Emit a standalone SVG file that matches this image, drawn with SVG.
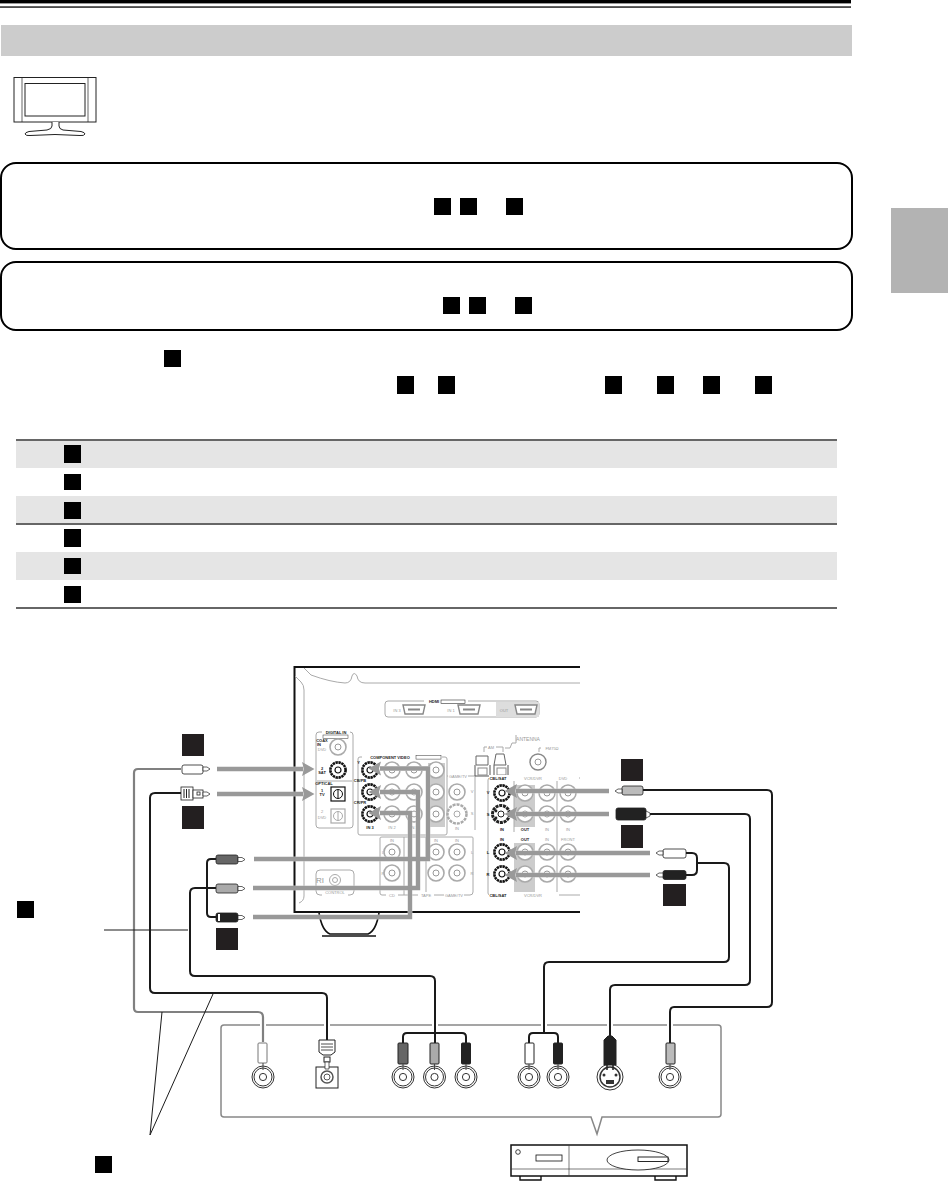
<svg xmlns="http://www.w3.org/2000/svg" xmlns:xlink="http://www.w3.org/1999/xlink" width="948" height="1181" viewBox="0 0 948 1181">
<style>
text{font-family:"Liberation Sans",Arial,sans-serif;text-anchor:middle}
.s{font-size:4px;font-weight:bold;fill:#222}
.g{font-size:4px;fill:#999}
.sq{fill:#000}.dq{fill:#231f20}
.rule{fill:none;stroke:#666;stroke-width:2}
.shade{fill:#e5e5e5}
.rbox{fill:none;stroke:#000;stroke-width:2}
.thin{fill:none;stroke:#1a1a1a;stroke-width:1}
.pg{fill:none;stroke:#aaa;stroke-width:1}
.hi{fill:none;stroke:#fff;stroke-width:6}
.arr{fill:none;stroke:#999;stroke-width:4.4;marker-end:url(#head)}
.halo{fill:none;stroke:#fff;stroke-width:4.5}
.cb{fill:none;stroke:#1a1a1a;stroke-width:2}
.cg{fill:none;stroke:#808080;stroke-width:2.2}
.p{stroke:#222;stroke-width:.8}
.tip{fill:#fff;stroke:#222;stroke-width:.7}
</style>
<defs>
<marker id="head" markerUnits="userSpaceOnUse" markerWidth="13" markerHeight="15" refX="1" refY="7.5" orient="auto" viewBox="0 0 13 15"><path d="M0 .5L12.5 7.5L0 14.5L2 7.5Z" fill="#999"/></marker>
<g id="jb"><circle r="7.6" fill="#fff" stroke="#111" stroke-width="2.6" stroke-dasharray="2.4 .6"/><circle r="3" fill="#fff" stroke="#111" stroke-width="1.200"/></g>
<g id="jg"><circle r="8" fill="#fff" stroke="#aaa" stroke-width="1.6"/><circle r="3" fill="none" stroke="#999" stroke-width="1"/></g>
<g id="jc"><circle r="11" fill="#fff" stroke="#333" stroke-width="1"/><circle r="9" fill="none" stroke="#333" stroke-width="1"/><circle r="3.6" fill="none" stroke="#333" stroke-width="1"/></g>
<g id="hd"><path d="M-11 -4.5H11L9 4.5H-9Z" fill="#fff" stroke="#888" stroke-width="1.4"/><rect x="-6" y="-1" width="12" height="2" fill="#888"/></g>
<g id="tr"><path class="tip" d="M0 -2H4L7 0L4 2H0Z"/></g>
<g id="tl"><path class="tip" d="M0 -2H-4L-7 0L-4 2H0Z"/></g>
<path id="a1" d="M217 769H303"/>
<path id="a2" d="M217 794H303"/>
<path id="a3" d="M254 859H428V768.5H380"/>
<path id="a4" d="M253 888H418V792H380"/>
<path id="a5" d="M253 917H410V813H380"/>
<path id="a6" d="M609 791H516"/>
<path id="a7" d="M609 814H516"/>
<path id="a8" d="M650 853H516"/>
<path id="a9" d="M650 875H516"/>
<path id="c1" d="M181 769H138Q134 769 134 773V1008Q134 1012 138 1012H258Q263 1012 263 1017V1042"/>
<path id="c2" d="M181 793H155Q150 793 150 798V988Q150 993 155 993H322Q327 993 327 998V1040"/>
<path id="c3" d="M216 888H195Q190 888 190 893V971Q190 976 195 976H430Q435 976 435 981V1043"/>
<path id="c4" d="M643 790H767Q772 790 772 795V1002Q772 1007 767 1007H674Q670 1007 670 1012V1043"/>
<path id="c5" d="M650 814H745Q750 814 750 819V980Q750 985 745 985H615Q610 985 610 990V1036"/>
<path id="c6" d="M697 863H724Q729 863 729 868V957Q729 962 724 962H549Q544 962 544 967V1033"/>
</defs>
<g id="page-header">
<rect x="0" y="0" width="851" height="3.4" fill="#000"/>
<rect x="0" y="6.4" width="851" height="1.3" fill="#000"/>
<rect x="1" y="25" width="851" height="31" fill="#ccc"/>
<rect x="891" y="208" width="57" height="85" fill="#b3b3b3"/>
</g>
<g id="tv-icon" fill="#fff" stroke="#222" stroke-width="1">
<rect x="14" y="77.5" width="82" height="44.5"/>
<path d="M22 77.5V122M88 77.5V122" stroke-width=".7"/>
<rect x="25" y="83.5" width="60" height="32.5"/>
<path d="M52 122V126Q52 129 47 130L29 131.5Q25 132.5 25 134Q26 136 30 135.5L55 134.5L80 135.5Q84 136 85 134Q85 132.5 81 131.5L63 130Q59 129 59 126V122"/>
</g>
<g id="note-box-1"><rect class="rbox" x="1" y="163" width="851" height="86" rx="15"/>
<rect class="sq" x="434" y="198" width="17" height="17"/><rect class="sq" x="460" y="198" width="17" height="17"/><rect class="sq" x="506" y="198" width="17" height="17"/></g>
<g id="note-box-2"><rect class="rbox" x="1" y="262" width="851" height="68" rx="15"/>
<rect class="sq" x="443" y="297" width="17" height="17"/><rect class="sq" x="469" y="297" width="17" height="17"/><rect class="sq" x="515" y="297" width="17" height="17"/></g>
<g id="intro-markers">
<rect class="sq" x="164" y="350" width="17" height="17"/>
<rect class="sq" x="397" y="376" width="17" height="18"/><rect class="sq" x="438" y="376" width="17" height="18"/>
<rect class="sq" x="605" y="376" width="17" height="18"/><rect class="sq" x="657" y="376" width="17" height="18"/>
<rect class="sq" x="703" y="376" width="17" height="18"/><rect class="sq" x="755" y="376" width="17" height="18"/>
</g>
<g id="table">
<rect class="shade" x="16" y="441" width="821" height="27"/>
<rect class="shade" x="16" y="496" width="821" height="27"/>
<rect class="shade" x="16" y="552" width="821" height="28"/>
<path class="rule" d="M16 440H837M16 524H837M16 608H837"/>
<rect class="sq" x="64" y="445" width="17" height="18"/>
<rect class="sq" x="64" y="474" width="17" height="16"/>
<rect class="sq" x="64" y="502" width="17" height="17"/>
<rect class="sq" x="64" y="529" width="17" height="18"/>
<rect class="sq" x="64" y="558" width="17" height="16"/>
<rect class="sq" x="64" y="586" width="17" height="17"/>
</g>
<g id="av-receiver-panel">
<path d="M580 667H294.5V912H580" fill="none" stroke="#111" stroke-width="2"/>
<path d="M319 913C321 925 325 932 330 934H368C373 932 377 925 379 913" fill="#fff" stroke="#111" stroke-width="1.6"/>
<path d="M322 936H376" stroke="#111" stroke-width="1.5"/>
<path class="pg" d="M304 668L311 675Q330 682 345 683Q351 683 352 676Q354 671 357 676Q358 683 365 683H580"/>
<path class="pg" d="M295 676L301 682Q304 685 304 690V896Q304 901 299 903"/>
<g id="hdmi-group">
<rect class="pg" x="385" y="701" width="154" height="16" rx="3"/>
<rect x="496" y="702" width="43" height="15" fill="#ddd"/>
<rect x="424" y="699" width="44" height="5" fill="#fff"/>
<text class="s" x="434" y="703">HDMI</text><rect x="441" y="700" width="24" height="3.6" fill="#fff" stroke="#333" stroke-width=".6"/>
<text class="g" x="397" y="712">IN 3</text><text class="g" x="451" y="712">IN 1</text><text class="g" x="504" y="712">OUT</text>
<use href="#hd" xlink:href="#hd" x="414" y="709.5"/><use href="#hd" xlink:href="#hd" x="469" y="709.5"/><use href="#hd" xlink:href="#hd" x="526" y="709.5"/>
</g>
<g id="digital-in">
<rect class="pg" x="316" y="732" width="37" height="96" rx="3"/>
<rect x="322" y="730" width="28" height="9" fill="#fff"/>
<text class="s" x="336" y="734">DIGITAL IN</text><rect x="323" y="735" width="25" height="3.5" fill="#fff" stroke="#333" stroke-width=".5"/>
<text class="s" x="322" y="742">COAX</text><text class="s" x="319" y="746">IN</text><text class="g" x="322" y="751">DVD</text>
<text class="s" x="322" y="770">2</text><text class="s" x="322" y="774">SAT</text>
<path class="pg" d="M317 781H352"/><text class="s" x="324" y="785">OPTICAL</text>
<text class="s" x="322" y="792">1</text><text class="s" x="322" y="796">TV</text>
<text class="g" x="322" y="813">2</text><text class="g" x="322" y="819">DVD</text>
<use href="#jg" xlink:href="#jg" x="338" y="747"/><use href="#jb" xlink:href="#jb" x="338" y="770"/>
<rect x="331" y="787" width="14" height="14" fill="#fff" stroke="#111" stroke-width="1.2"/><circle cx="338" cy="794" r="4.5" fill="none" stroke="#111"/><path d="M338 789.5V798.5" stroke="#111"/>
<rect x="331" y="809" width="14" height="14" fill="#fff" stroke="#aaa" stroke-width="1.2"/><circle cx="338" cy="816" r="4.5" fill="none" stroke="#aaa"/><path d="M338 811.5V820.5" stroke="#aaa"/>
</g>
<g id="component-video">
<rect x="428" y="763" width="17" height="64" fill="#ccc"/>
<path class="pg" d="M360 757Q358 757 358 759V833Q358 835 360 835H445Q447 835 447 833V759Q447 757 445 757Z"/>
<rect x="362" y="754" width="80" height="6" fill="#fff"/>
<text class="s" x="390" y="759">COMPONENT VIDEO</text><rect x="416" y="755.5" width="25" height="3.6" fill="#fff" stroke="#333" stroke-width=".5"/>
<text class="s" x="358.5" y="764">Y</text><text class="s" x="360" y="782">CB/PB</text><text class="s" x="360" y="804">CR/PR</text>
<text class="s" x="370" y="829">IN 3</text><text class="g" x="392" y="829">IN 2</text><text class="g" x="414" y="829">IN 1</text>
<use href="#jg" xlink:href="#jg" x="392" y="770"/><use href="#jg" xlink:href="#jg" x="414" y="770"/><use href="#jg" xlink:href="#jg" x="436" y="770"/>
<use href="#jg" xlink:href="#jg" x="392" y="792"/><use href="#jg" xlink:href="#jg" x="414" y="792"/><use href="#jg" xlink:href="#jg" x="436" y="792"/>
<use href="#jg" xlink:href="#jg" x="392" y="814"/><use href="#jg" xlink:href="#jg" x="414" y="814"/><use href="#jg" xlink:href="#jg" x="436" y="814"/>
<use href="#jb" xlink:href="#jb" x="370" y="770"/><use href="#jb" xlink:href="#jb" x="370" y="792"/><use href="#jb" xlink:href="#jb" x="370" y="814"/>
</g>
<g id="game-tv-video">
<path class="pg" d="M447 776H475V830"/>
<rect x="448" y="773" width="20" height="6" fill="#fff"/>
<text class="g" x="458" y="778">GAME/TV</text><text class="g" x="472" y="793">V</text><text class="g" x="472" y="815">S</text><text class="g" x="457" y="830">IN</text>
<use href="#jg" xlink:href="#jg" x="457" y="792"/><circle cx="457" cy="814" r="9.5" fill="#fff" stroke="#aaa" stroke-width="2.5" stroke-dasharray="3 1"/><circle cx="457" cy="814" r="3" fill="#fff" stroke="#aaa"/>
</g>
<g id="audio-in">
<path class="pg" d="M380 893V838Q380 837 382 837H472Q473 837 473 838V892Q473 895 470 895H382Q380 895 380 893ZM404 837V895M426 837V895"/>
<rect x="386" y="838" width="12" height="6" fill="#fff"/>
<text class="g" x="392" y="842">IN</text><text class="g" x="436" y="842">IN</text><text class="g" x="457" y="842">IN</text>
<text class="g" x="383" y="854">L</text><text class="g" x="383" y="875">R</text><text class="g" x="472" y="854">L</text><text class="g" x="472" y="875">R</text>
<rect x="386" y="892" width="12" height="6" fill="#fff"/><rect x="418" y="892" width="16" height="6" fill="#fff"/><rect x="444" y="892" width="20" height="6" fill="#fff"/>
<text class="g" x="392" y="897">CD</text><text class="g" x="426" y="897">TAPE</text><text class="g" x="454" y="897">GAME/TV</text>
<use href="#jg" xlink:href="#jg" x="392" y="852"/><use href="#jg" xlink:href="#jg" x="392" y="873"/><use href="#jg" xlink:href="#jg" x="436" y="852"/><use href="#jg" xlink:href="#jg" x="436" y="873"/><use href="#jg" xlink:href="#jg" x="457" y="852"/><use href="#jg" xlink:href="#jg" x="457" y="873"/>
</g>
<g id="control">
<rect class="pg" x="316" y="870" width="38" height="25" rx="4"/>
<rect x="322" y="891" width="26" height="6" fill="#fff"/>
<text class="g" style="font-size:8px" x="320" y="883">RI</text><text class="g" x="335" y="894">CONTROL</text>
<circle cx="335" cy="880" r="5.5" fill="#fff" stroke="#aaa"/><circle cx="335" cy="880" r="2.5" fill="none" stroke="#aaa"/>
</g>
<g id="antenna">
<text class="g" style="font-size:5px" x="528" y="741">ANTENNA</text>
<path class="pg" d="M484 752V747H487M496 747H503V752M505 748H510L512 743H516V735M539 752V748H541"/>
<text class="g" x="491" y="749">AM</text><text class="g" x="552" y="750">FM75Ω</text>
<path d="M475 765V776H490V765M494 765V776H508V765" fill="none" stroke="#555" stroke-width="1"/>
<path d="M476 756H488V765H476ZM496 754H504L506 765H494Z" fill="#fff" stroke="#666"/>
<rect x="478" y="768" width="9" height="7" fill="none" stroke="#888"/><rect x="497" y="768" width="9" height="7" fill="none" stroke="#888"/>
<circle cx="538" cy="762" r="8" fill="#fff" stroke="#888" stroke-width="1.4"/><circle cx="538" cy="762" r="3" fill="none" stroke="#999"/>
</g>
<g id="video-in-right">
<rect x="514" y="785" width="21" height="42" fill="#ccc"/><rect x="514" y="843" width="21" height="49" fill="#ccc"/>
<path class="pg" d="M580 778H490Q488 778 488 780V893Q488 895 490 895H580M514 780V832M557 780V892"/>
<rect x="489" y="775" width="90" height="6" fill="#fff"/><rect x="489" y="892" width="70" height="6" fill="#fff"/>
<text class="s" x="498" y="780">CBL/SAT</text><text class="g" x="533" y="780">VCR/DVR</text><text class="g" x="563" y="780">DVD</text>
<text class="s" x="488" y="794">V</text><text class="s" x="488" y="816">S</text><text class="s" x="502" y="831">IN</text><text class="s" x="525" y="831">OUT</text><text class="g" x="547" y="831">IN</text><text class="g" x="568" y="831">IN</text>
<text class="s" x="502" y="841">IN</text><text class="s" x="525" y="841">OUT</text><text class="g" x="547" y="841">IN</text><text class="g" x="568" y="841">FRONT</text>
<text class="s" x="488" y="854">L</text><text class="s" x="488" y="876">R</text>
<text class="s" x="498" y="897">CBL/SAT</text><text class="g" x="533" y="897">VCR/DVR</text>
<use href="#jg" xlink:href="#jg" x="525" y="793"/><use href="#jg" xlink:href="#jg" x="547" y="793"/><use href="#jg" xlink:href="#jg" x="568" y="793"/>
<use href="#jg" xlink:href="#jg" x="525" y="814"/><use href="#jg" xlink:href="#jg" x="547" y="814"/><use href="#jg" xlink:href="#jg" x="568" y="814"/>
<use href="#jg" xlink:href="#jg" x="525" y="852"/><use href="#jg" xlink:href="#jg" x="547" y="852"/><use href="#jg" xlink:href="#jg" x="568" y="852"/>
<use href="#jg" xlink:href="#jg" x="525" y="874"/><use href="#jg" xlink:href="#jg" x="547" y="874"/><use href="#jg" xlink:href="#jg" x="568" y="874"/>
<use href="#jb" xlink:href="#jb" x="502" y="793"/>
<circle cx="501" cy="814" r="8.5" fill="#fff" stroke="#222" stroke-width="3" stroke-dasharray="3 .8"/><circle cx="501" cy="814" r="3" fill="#fff" stroke="#222"/><circle cx="496" cy="811" r="1.4" fill="#222"/><circle cx="496" cy="818" r="1.4" fill="#222"/>
<use href="#jb" xlink:href="#jb" x="502" y="852"/><use href="#jb" xlink:href="#jb" x="502" y="874"/>
</g>
<path d="M581 665V915" stroke="#fff" stroke-width="2" fill="none"/>
</g>
<g id="source-box">
<path d="M224 1025H718Q721 1025 721 1028V1114Q721 1117 718 1117H602L597 1134L591 1117H224Q221 1117 221 1114V1028Q221 1025 224 1025Z" fill="none" stroke="#888" stroke-width="1.5"/>
</g>
<g id="source-player" fill="#fff" stroke="#111">
<path d="M520 1176V1180H541V1176M655 1176V1180H676V1176" stroke-width="1.4"/>
<rect x="511" y="1145" width="176" height="31" stroke-width="1.5"/>
<path d="M511 1169H687M569 1145V1176" stroke-width=".7" stroke="#444"/>
<circle cx="518" cy="1152" r="2.3" stroke-width=".8"/>
<rect x="536" y="1155" width="26" height="6" stroke-width=".8"/>
<ellipse cx="638" cy="1160" rx="31" ry="10" stroke-width=".8"/>
<rect x="638" y="1157" width="30" height="4.5" stroke-width=".9"/>
</g>
<g id="connectors">
<g id="arrows">
<use class="halo" href="#a1" xlink:href="#a1"/><use class="halo" href="#a2" xlink:href="#a2"/><use class="halo" href="#a3" xlink:href="#a3"/><use class="halo" href="#a4" xlink:href="#a4"/><use class="halo" href="#a5" xlink:href="#a5"/><use class="halo" href="#a6" xlink:href="#a6"/><use class="halo" href="#a7" xlink:href="#a7"/><use class="halo" href="#a8" xlink:href="#a8"/><use class="halo" href="#a9" xlink:href="#a9"/>
<use class="arr" href="#a1" xlink:href="#a1"/><use class="arr" href="#a2" xlink:href="#a2"/><use class="arr" href="#a3" xlink:href="#a3"/><use class="arr" href="#a4" xlink:href="#a4"/><use class="arr" href="#a5" xlink:href="#a5"/><use class="arr" href="#a6" xlink:href="#a6"/><use class="arr" href="#a7" xlink:href="#a7"/><use class="arr" href="#a8" xlink:href="#a8"/><use class="arr" href="#a9" xlink:href="#a9"/>
</g>
<g id="cables">
<use class="hi" href="#c1" xlink:href="#c1"/><use class="hi" href="#c2" xlink:href="#c2"/><use class="hi" href="#c3" xlink:href="#c3"/><use class="hi" href="#c4" xlink:href="#c4"/><use class="hi" href="#c5" xlink:href="#c5"/><use class="hi" href="#c6" xlink:href="#c6"/>
<use class="cg" href="#c1" xlink:href="#c1"/>
<use class="cb" href="#c2" xlink:href="#c2"/><use class="cb" href="#c3" xlink:href="#c3"/><use class="cb" href="#c4" xlink:href="#c4"/><use class="cb" href="#c5" xlink:href="#c5"/><use class="cb" href="#c6" xlink:href="#c6"/>
<path class="cb" d="M216 859H211Q207 859 207 863V913Q207 917 211 917H216"/>
<path class="cb" d="M686 853H692Q697 853 697 858V870Q697 875 692 875H686"/>
<path class="cb" d="M403 1043V1037Q403 1033 407 1033H462Q466 1033 466 1037V1043"/>
<path class="cb" d="M529 1043V1037Q529 1033 533 1033H554Q558 1033 558 1037V1043"/>
</g>
<g id="leaders">
<path class="thin" d="M104 930H188"/>
<path class="thin" d="M150 1135L162 1012M150 1135L213 994"/>
</g>
</g>
<g id="plugs-left">
<g id="plug-coax"><rect class="p" x="182" y="765" width="21" height="9" rx="2" fill="#fff"/><use href="#tr" xlink:href="#tr" x="203" y="769"/></g>
<g id="plug-optical"><rect class="p" x="181" y="787" width="12" height="13" fill="#fff" stroke-width="1"/><path d="M184 789V798M186.5 789V798M189 789V798" stroke="#222"/><rect class="p" x="193" y="790" width="10" height="8" fill="#fff"/><rect class="p" x="197" y="792" width="3" height="3" fill="#fff"/><use href="#tr" xlink:href="#tr" x="203" y="794"/></g>
<g id="plug-cr"><rect class="p" x="216" y="855" width="22" height="9" rx="2" fill="#666"/><use href="#tr" xlink:href="#tr" x="238" y="859.5"/></g>
<g id="plug-y"><rect class="p" x="216" y="884" width="22" height="9" rx="2" fill="#aaa"/><use href="#tr" xlink:href="#tr" x="238" y="888.5"/></g>
<g id="plug-cb"><rect class="p" x="216" y="913" width="22" height="9" rx="2" fill="#222"/><rect x="218" y="914" width="2" height="7" fill="#fff"/><use href="#tr" xlink:href="#tr" x="238" y="917.5"/></g>
</g>
<g id="plugs-right">
<g id="plug-video"><rect class="p" x="622" y="786" width="21" height="9" rx="2" fill="#bbb"/><use href="#tl" xlink:href="#tl" x="622" y="791"/></g>
<g id="plug-svideo"><rect class="p" x="616" y="808" width="30" height="12" rx="2" fill="#222"/><path d="M646 811L650 813V816L646 818Z" fill="#fff" stroke="#222" stroke-width=".7"/></g>
<g id="plug-l"><rect class="p" x="663" y="849" width="23" height="9" rx="2" fill="#fff"/><use href="#tl" xlink:href="#tl" x="663" y="853"/></g>
<g id="plug-r"><rect class="p" x="663" y="870.5" width="23" height="9" rx="2" fill="#222"/><use href="#tl" xlink:href="#tl" x="663" y="875"/></g>
</g>
<g id="source-jacks">
<use href="#jc" xlink:href="#jc" x="263" y="1077"/>
<rect x="258" y="1043" width="9" height="20" rx="1" fill="#fff" stroke="#777"/>
<rect x="316" y="1067" width="22" height="21" fill="#fff" stroke="#222"/><circle cx="327" cy="1077" r="6" fill="none" stroke="#555" stroke-width="1.5"/><circle cx="327" cy="1077" r="3" fill="none" stroke="#555"/>
<path d="M319 1040H335V1052L331 1055H323L319 1052Z" fill="#fff" stroke="#222"/><path d="M321 1044H333M321 1047H333M321 1050H333" stroke="#222" stroke-width=".8"/>
<rect x="324" y="1057" width="6" height="5" fill="#fff" stroke="#222"/><path d="M325 1062H329V1069H325Z" fill="#fff" stroke="#222" stroke-width=".7"/>
<use href="#jc" xlink:href="#jc" x="403" y="1077"/><use href="#jc" xlink:href="#jc" x="434.5" y="1077"/><use href="#jc" xlink:href="#jc" x="466" y="1077"/>
<rect x="398" y="1043" width="10" height="21" rx="1" fill="#666" stroke="#222"/>
<rect x="430" y="1043" width="9" height="21" rx="1" fill="#aaa" stroke="#222"/>
<rect x="461.5" y="1043" width="9" height="21" rx="1" fill="#222" stroke="#222"/>
<use href="#jc" xlink:href="#jc" x="529" y="1077"/><use href="#jc" xlink:href="#jc" x="558" y="1077"/>
<rect x="525" y="1043" width="9" height="21" rx="1" fill="#fff" stroke="#222"/>
<rect x="553.5" y="1043" width="9" height="21" rx="1" fill="#222" stroke="#222"/>
<circle cx="610" cy="1077" r="13" fill="#fff" stroke="#333"/><circle cx="610" cy="1077" r="10" fill="#fff" stroke="#333" stroke-width="1.5"/><rect x="606" y="1080" width="8" height="4" fill="#333"/><circle cx="604" cy="1075" r="1.5" fill="#333"/><circle cx="616" cy="1075" r="1.5" fill="#333"/>
<path d="M604 1065V1040L608 1036H612L616 1040V1065Z" fill="#222" stroke="#222"/><path d="M607 1065V1070M613 1065V1070" stroke="#222" stroke-width="1.5"/>
<use href="#jc" xlink:href="#jc" x="670" y="1077"/>
<rect x="666" y="1043" width="9" height="21" rx="1" fill="#bbb" stroke="#222"/>
<path d="M263 1063V1070M403 1064V1070M434.5 1064V1070M466 1064V1070M529 1064V1070M558 1064V1070M670 1064V1070" stroke="#444" fill="none"/>
</g>
<g id="diagram-markers">
<rect class="dq" x="182" y="734" width="22" height="22"/>
<rect class="dq" x="182" y="806" width="22" height="23"/>
<rect class="dq" x="216" y="928" width="22" height="22"/>
<rect class="dq" x="621" y="759" width="22" height="22"/>
<rect class="dq" x="621" y="825" width="22" height="23"/>
<rect class="dq" x="663" y="884" width="23" height="22"/>
<rect class="sq" x="17" y="901" width="17" height="17"/>
<rect class="sq" x="95" y="1156" width="17" height="17"/>
</g>
</svg>
